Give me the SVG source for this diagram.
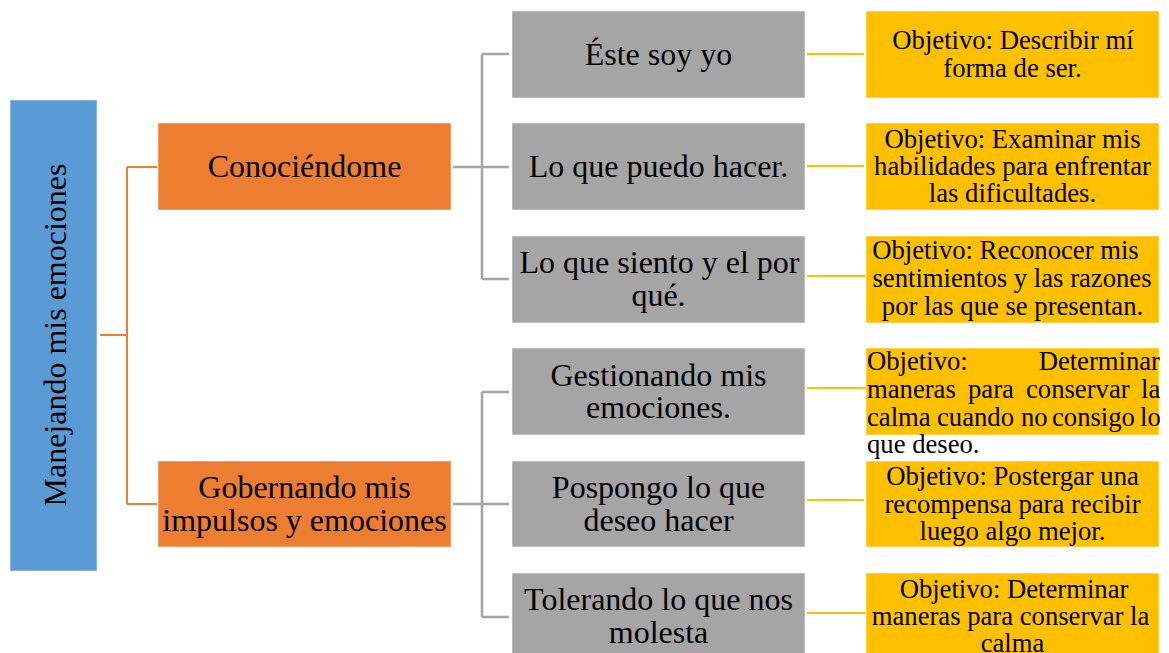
<svg xmlns="http://www.w3.org/2000/svg" width="1169" height="653" viewBox="0 0 1169 653">
<style>
.t{font-family:"Liberation Serif","Times New Roman",serif;fill:#000}
.m{font-size:32px;text-anchor:middle}
.y{font-size:26.67px;text-anchor:middle}
.yl{font-size:26.67px}
.box{stroke:#ffffff;stroke-opacity:0.5;stroke-width:1}
.blue{fill:#5B9BD5}
.org{fill:#ED7D31}
.gry{fill:#A5A5A5}
.yel{fill:#FFC000}
.co{fill:none;stroke:#ED7D31;stroke-width:2}
.cg{fill:none;stroke:#A5A5A5;stroke-width:2.5}
.cy{fill:none;stroke:#FFC000;stroke-width:2}
</style>
<rect width="1169" height="653" fill="#fff"/>
<g id="connectors">
<path class="co" d="M100,335H127M127,167V504M127,167H157M127,504H157"/>
<path class="cg" d="M453,167H509M482,54V279M482,54H509M482,279H509"/>
<path class="cg" d="M453,504H509M482,392V617M482,392H509M482,617H509"/>
<path class="cy" d="M807,54H864M807,166H864M807,276H866M807,388H866M807,500H864M807,613H866"/>
</g>
<g id="root">
<rect class="box blue" x="10" y="100" width="87" height="471"/>
<text class="t m" transform="translate(66,335) rotate(-90)" x="0" y="0">Manejando mis emociones</text>
</g>
<g id="conociendome">
<rect class="box org" x="158" y="123" width="293" height="87"/>
<text class="t m" x="304.5" y="177">Conociéndome</text>
</g>
<g id="gobernando">
<rect class="box org" x="158" y="461" width="293" height="86"/>
<text class="t m" x="304.5" y="498">Gobernando mis</text>
<text class="t m" x="304.5" y="531">impulsos y emociones</text>
</g>
<g id="g1">
<rect class="box gry" x="512" y="11" width="293" height="87"/>
<text class="t m" x="658.5" y="65">Éste soy yo</text>
</g>
<g id="g2">
<rect class="box gry" x="512" y="123" width="293" height="87"/>
<text class="t m" x="658.5" y="177">Lo que puedo hacer.</text>
</g>
<g id="g3">
<rect class="box gry" x="512" y="236" width="293" height="87"/>
<text class="t m" x="659.5" y="273">Lo que siento y el por</text>
<text class="t m" x="658.5" y="306">qué.</text>
</g>
<g id="g4">
<rect class="box gry" x="512" y="348" width="293" height="87"/>
<text class="t m" x="658.5" y="386">Gestionando mis</text>
<text class="t m" x="658.5" y="418">emociones.</text>
</g>
<g id="g5">
<rect class="box gry" x="512" y="461" width="293" height="86"/>
<text class="t m" x="658.5" y="498">Pospongo lo que</text>
<text class="t m" x="658.5" y="531">deseo hacer</text>
</g>
<g id="g6">
<rect class="box gry" x="512" y="573" width="293" height="87"/>
<text class="t m" x="658.5" y="610">Tolerando lo que nos</text>
<text class="t m" x="658.5" y="643">molesta</text>
</g>
<g id="y1">
<rect class="box yel" x="866" y="11" width="293" height="87"/>
<text class="t y" x="1013" y="49">Objetivo: Describir mí</text>
<text class="t y" x="1012.5" y="77">forma de ser.</text>
</g>
<g id="y2">
<rect class="box yel" x="866" y="123" width="293" height="87"/>
<text class="t y" x="1012.5" y="148">Objetivo: Examinar mis</text>
<text class="t y" x="1012.5" y="175">habilidades para enfrentar</text>
<text class="t y" x="1012.5" y="202">las dificultades.</text>
</g>
<g id="y3">
<clipPath id="c3"><rect x="866" y="236" width="293" height="87"/></clipPath>
<rect class="box yel" x="866" y="236" width="293" height="87"/>
<g clip-path="url(#c3)">
<text class="t y" x="1005.5" y="259">Objetivo: Reconocer mis</text>
<text class="t y" x="1012" y="287">sentimientos y las razones</text>
<text class="t y" x="1012.5" y="315">por las que se presentan.</text>
</g>
</g>
<g id="y4">
<rect class="box yel" x="866" y="348" width="293" height="87"/>
<text class="t yl" x="867" y="370">Objetivo:</text>
<text class="t yl" x="1160" y="370" text-anchor="end">Determinar</text>
<text class="t yl" y="398"><tspan x="867">maneras</tspan><tspan x="968">para</tspan><tspan x="1026">conservar</tspan><tspan x="1141">la</tspan></text>
<text class="t yl" y="426"><tspan x="867">calma</tspan><tspan x="937">cuando</tspan><tspan x="1021">no</tspan><tspan x="1052">consigo</tspan><tspan x="1140">lo</tspan></text>
<text class="t yl" x="867" y="453">que deseo.</text>
</g>
<g id="y5">
<rect class="box yel" x="866" y="461" width="293" height="86"/>
<text class="t y" x="1012.5" y="485">Objetivo: Postergar una</text>
<text class="t y" x="1012.5" y="513">recompensa para recibir</text>
<text class="t y" x="1012.5" y="540">luego algo mejor.</text>
</g>
<g id="y6">
<rect class="box yel" x="866" y="573" width="293" height="87"/>
<text class="t y" x="1014" y="598">Objetivo: Determinar</text>
<text class="t y" x="1010.5" y="625">maneras para conservar la</text>
<text class="t y" x="1012.5" y="652">calma</text>
</g>
</svg>
